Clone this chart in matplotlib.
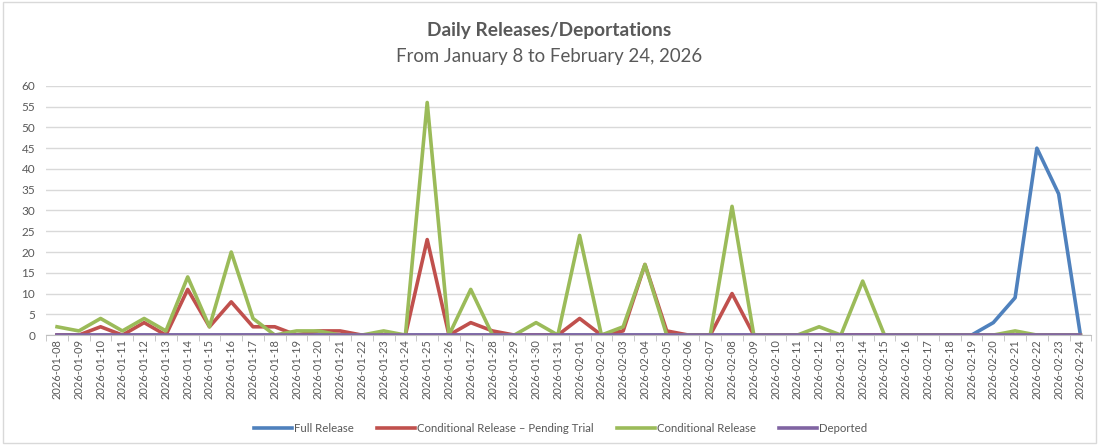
import matplotlib
matplotlib.use("Agg")
import matplotlib.pyplot as plt
from matplotlib.patches import Rectangle
import numpy as np
import pandas as pd

dates = [d.strftime("%Y-%m-%d") for d in pd.date_range("2026-01-08", "2026-02-24")]

full_release = [0]*43 + [3, 9, 45, 34, 0]

cond_pending = [0, 0, 2, 0, 3, 0, 11, 2, 8, 2,
                2, 0, 1, 1, 0, 0, 0, 23, 0, 3,
                1, 0, 0, 0, 4, 0, 1, 17, 1, 0,
                0, 10, 0, 0, 0, 0, 0, 0, 0, 0,
                0, 0, 0, 0, 0, 0, 0, 0]

cond_release = [2, 1, 4, 1, 4, 1, 14, 2, 20, 4,
                0, 1, 1, 0, 0, 1, 0, 56, 0, 11,
                0, 0, 3, 0, 24, 0, 2, 17, 0, 0,
                0, 31, 0, 0, 0, 2, 0, 13, 0, 0,
                0, 0, 0, 0, 1, 0, 0, 0]

deported = [0]*48

series_names = ["Full Release", "Conditional Release \u2013 Pending Trial",
                "Conditional Release", "Deported"]
colors = ["#4F81BD", "#C0504D", "#9BBB59", "#8064A2"]

plt.rcParams['font.family'] = ['Lato', 'DejaVu Sans']
text_color = "#595959"

fig = plt.figure(figsize=(10.99, 4.45), dpi=100)
ax = fig.add_axes([0.042, 0.247, 0.951, 0.56])

x = np.arange(len(dates))
for vals, name, c in zip([full_release, cond_pending, cond_release, deported],
                         series_names, colors):
    ax.plot(x, vals, color=c, lw=2.6, label=name, solid_joinstyle='round')

ax.set_xlim(-0.5, len(dates) - 0.5)
ax.set_ylim(0, 60)
ax.set_yticks(range(0, 61, 5))
ax.yaxis.grid(True, color="#D9D9D9", lw=1)
ax.set_axisbelow(True)
for s in ["top", "right", "left"]:
    ax.spines[s].set_visible(False)
ax.spines["bottom"].set_color("#BFBFBF")
ax.tick_params(axis='y', length=0, labelsize=8.5, colors=text_color, pad=8)
ax.set_xticks(x)
ax.set_xticklabels(dates, rotation=90, fontsize=8, color=text_color)
ax.tick_params(axis='x', length=0, pad=3)
ax.set_xticks(np.arange(-0.5, len(dates), 1), minor=True)
ax.tick_params(axis='x', which='minor', length=4, color="#BFBFBF")

fig.text(0.5, 0.932, "Daily Releases/Deportations", ha='center', va='center',
         fontsize=13.8, fontweight='bold', color=text_color)
fig.text(0.5, 0.872, "From January 8 to February 24, 2026", ha='center', va='center',
         fontsize=13.4, color=text_color)

leg = fig.legend(loc='center', bbox_to_anchor=(0.51, 0.038), ncol=4, frameon=False,
                 fontsize=8.2, handlelength=3.4, handletextpad=0.15, columnspacing=2.0)
for t in leg.get_texts():
    t.set_color(text_color)

fig.patches.append(Rectangle((0.003, 0.005), 0.994, 0.99, transform=fig.transFigure,
                             fill=False, edgecolor="#D9D9D9", lw=1))

fig.savefig("out.png", dpi=100)
